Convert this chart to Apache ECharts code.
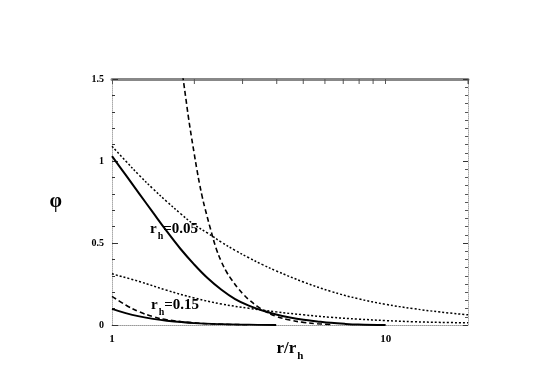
<!DOCTYPE html>
<html><head><meta charset="utf-8">
<script src="https://cdn.jsdelivr.net/npm/echarts@6/dist/echarts.min.js"></script>
<style>html,body{margin:0;padding:0;background:#fff}#c{width:545px;height:380px}</style>
</head><body><div id="c"></div>
<script>
// r/r_h values and phi values
const xSolid05 = [1, 1.122, 1.259, 1.413, 1.585, 1.778, 1.995, 2.239, 2.512, 2.818, 3.162, 3.548, 3.981, 4.467, 5.012, 5.623, 6.310, 7.079, 7.943, 10];
const ySolid05 = [1.03, 0.915, 0.80, 0.685, 0.572, 0.465, 0.37, 0.285, 0.215, 0.158, 0.118, 0.088, 0.064, 0.046, 0.032, 0.022, 0.013, 0.007, 0.003, 0];
const xDot05 = [1, 1.122, 1.259, 1.413, 1.585, 1.778, 1.995, 2.239, 2.512, 2.818, 3.162, 3.548, 3.981, 5.012, 6.310, 7.943, 10, 12.59, 15.85, 20];
const yDot05 = [1.09, 1.00, 0.912, 0.83, 0.753, 0.68, 0.612, 0.56, 0.505, 0.455, 0.41, 0.368, 0.33, 0.262, 0.205, 0.16, 0.126, 0.10, 0.079, 0.062];
const xDash05 = [1.778, 1.820, 1.862, 1.905, 1.950, 1.995, 2.042, 2.089, 2.138, 2.188, 2.291, 2.399, 2.512, 2.630, 2.754, 2.884, 3.020, 3.162, 3.388, 3.631, 3.981, 4.467, 5.012, 5.623, 6.310];
const yDash05 = [1.62, 1.50, 1.38, 1.26, 1.15, 1.05, 0.95, 0.86, 0.78, 0.71, 0.585, 0.47, 0.385, 0.32, 0.27, 0.225, 0.187, 0.155, 0.115, 0.083, 0.053, 0.03, 0.016, 0.008, 0.003];
const xSolid15 = [1, 1.122, 1.259, 1.413, 1.585, 1.995, 2.512, 3.162, 3.981];
const ySolid15 = [0.098, 0.072, 0.052, 0.037, 0.026, 0.012, 0.005, 0.002, 0];
const xDash15 = [1, 1.122, 1.259, 1.413, 1.585, 1.995, 2.512, 3.162];
const yDash15 = [0.175, 0.122, 0.08, 0.051, 0.032, 0.013, 0.005, 0.001];
const xDot15 = [1, 1.259, 1.585, 1.995, 2.512, 3.162, 3.981, 5.012, 6.310, 7.943, 10, 12.59, 15.85, 20];
const yDot15 = [0.312, 0.265, 0.212, 0.165, 0.128, 0.102, 0.08, 0.062, 0.047, 0.036, 0.027, 0.02, 0.016, 0.013];
const xTickLabels = [1, 10];
const topMinorTicks = [2, 3, 4, 5, 6, 7, 8, 9, 20];
const curveLabels = ['0.05', '0.15'];

const FONT = '"Liberation Serif", "DejaVu Serif", serif';
const pair = (xs, ys) => xs.map((x, i) => [x, ys[i]]);
function line(xs, ys, type, width) {
  return {
    type: 'line', data: pair(xs, ys), showSymbol: false, smooth: 0.4,
    clip: true, silent: true,
    lineStyle: { color: '#000', width: width, type: type }
  };
}
const chart = echarts.init(document.getElementById('c'));
const grid = { left: 112, right: 77, top: 79, bottom: 55 };
chart.setOption({
  animation: false,
  backgroundColor: '#fff',
  grid: grid,
  xAxis: [{
    type: 'log', logBase: 10, min: 1, max: 20, position: 'bottom',
    name: '{a|r/r}{b|h}', nameLocation: 'middle', nameGap: 10, nameMoveOverlap: false,
    nameTextStyle: {
      rich: {
        a: { fontFamily: FONT, fontWeight: 'bold', fontSize: 17, color: '#000' },
        b: { fontFamily: FONT, fontWeight: 'bold', fontSize: 11, color: '#000', padding: [16, 0, 0, 1] }
      }
    },
    axisLine: { show: true, onZero: false, lineStyle: { color: '#999', width: 1, type: 'dotted' } },
    axisTick: { show: false },
    splitLine: { show: false },
    axisLabel: {
      fontFamily: FONT, fontWeight: 'bold', fontSize: 11, color: '#000', margin: 9,
      formatter: v => (xTickLabels.indexOf(Math.round(v)) >= 0 ? String(Math.round(v)) : '')
    }
  }, {
    type: 'log', logBase: 10, min: 1, max: 20, position: 'top',
    axisLine: { show: true, onZero: false, lineStyle: { color: '#888', width: 3 } },
    axisTick: { show: true, inside: true, length: 5, lineStyle: { color: '#555' } },
    axisLabel: { show: false }, splitLine: { show: false }
  }],
  yAxis: [{
    type: 'value', min: 0, max: 1.5, interval: 0.5, position: 'left',
    name: 'φ', nameLocation: 'middle', nameGap: 50, nameRotate: 0, nameMoveOverlap: false,
    nameTextStyle: { fontFamily: FONT, fontWeight: 'bold', fontSize: 20, color: '#000' },
    axisLine: { show: true, onZero: false, lineStyle: { color: '#aaa', width: 1, type: 'dotted' } },
    axisTick: { show: true, inside: true, length: 6, lineStyle: { color: '#333' } },
    minorTick: { show: true, splitNumber: 5, length: 3, lineStyle: { color: '#333' } },
    splitLine: { show: false },
    axisLabel: {
      fontFamily: FONT, fontWeight: 'bold', fontSize: 10, color: '#000', margin: 8,
      formatter: v => String(v)
    }
  }, {
    type: 'value', min: 0, max: 1.5, interval: 0.5, position: 'right',
    axisLine: { show: true, onZero: false, lineStyle: { color: '#aaa', width: 1, type: 'dotted' } },
    axisTick: { show: true, inside: true, length: 5, lineStyle: { color: '#333' } },
    minorTick: { show: true, splitNumber: 10, length: 3, lineStyle: { color: '#555' } },
    splitLine: { show: false }, axisLabel: { show: false }
  }],
  series: [
    line(xSolid05, ySolid05, 'solid', 2),
    line(xDot05, yDot05, [2, 2], 1.5),
    line(xDash05, yDash05, [5, 3], 1.6),
    line(xSolid15, ySolid15, 'solid', 1.8),
    line(xDash15, yDash15, [5, 3], 1.6),
    line(xDot15, yDot15, [2, 2], 1.5)
  ]
});

// top-axis minor ticks (positions from the library's log scale) and curve labels
const topY = grid.top;
const g = topMinorTicks.map(v => {
  const px = chart.convertToPixel({ xAxisIndex: 1 }, v);
  return { type: 'line', silent: true, z: 10, shape: { x1: px, y1: topY, x2: px, y2: topY + 5 }, style: { stroke: '#555', lineWidth: 1 } };
});
function lbl(txt, x, y) {
  return {
    type: 'text', left: x, top: y, silent: true,
    style: {
      text: '{r|r}{h|h}{v|=' + txt + '}',
      rich: {
        r: { fontFamily: FONT, fontWeight: 'bold', fontSize: 15, fill: '#000' },
        h: { fontFamily: FONT, fontWeight: 'bold', fontSize: 10, fill: '#000', padding: [14, 0, 0, 1] },
        v: { fontFamily: FONT, fontWeight: 'bold', fontSize: 15, fill: '#000' }
      }
    }
  };
}
g.push(lbl(curveLabels[0], 150, 222));
g.push(lbl(curveLabels[1], 151, 298));
chart.setOption({ graphic: g });
</script></body></html>
